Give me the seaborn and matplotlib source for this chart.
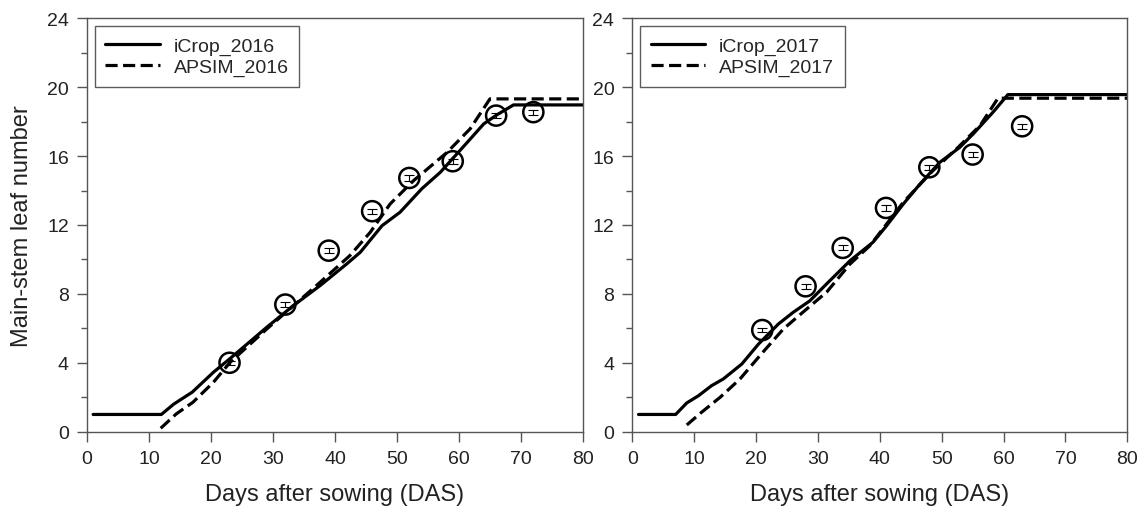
import numpy as np
import pandas as pd
import matplotlib
matplotlib.use("Agg")
import matplotlib.pyplot as plt
import seaborn as sns
from matplotlib.ticker import MultipleLocator

# ---- data ----
icrop16_day = [1, 12, 14, 17, 20.4, 23, 29, 33.3, 37.6, 41.9, 44.1, 47.6, 50.5, 54, 57, 61.6, 64, 66.1, 68.8, 80]
icrop16_val = [1, 1, 1.6, 2.3, 3.45, 4.22, 6.06, 7.32, 8.48, 9.74, 10.42, 11.96, 12.74, 14.1, 15.06, 16.9, 17.87, 18.39, 18.97, 18.97]
apsim16_day = [11.9, 14.4, 17.1, 20.4, 23.1, 29, 37.6, 42.4, 45.7, 48.9, 52.7, 58.1, 61.8, 65, 80]
apsim16_val = [0.2, 1.03, 1.71, 2.87, 4.03, 5.96, 8.67, 10.22, 11.58, 13.22, 14.58, 16.22, 17.58, 19.32, 19.32]
obs16_day = [23, 32, 39, 46, 52, 59, 66, 72]
obs16_val = [4.0, 7.38, 10.51, 12.8, 14.73, 15.7, 18.35, 18.55]
obs16_err = [0.1, 0.15, 0.15, 0.15, 0.15, 0.15, 0.15, 0.15]

icrop17_day = [1, 7, 8.8, 10.7, 12.8, 14.7, 17.7, 20.4, 23.6, 26, 28.7, 31.4, 35.2, 38.9, 41.1, 43.8, 46.5, 49.7, 52.9, 55.1, 58.3, 60.7, 80]
icrop17_val = [1, 1, 1.67, 2.09, 2.67, 3.06, 3.93, 5.09, 6.25, 6.93, 7.6, 8.58, 9.93, 11.0, 11.96, 13.22, 14.38, 15.64, 16.5, 17.29, 18.55, 19.57, 19.57]
apsim17_day = [8.8, 11.2, 14.2, 17.4, 20.6, 24.4, 28.2, 31.4, 35.2, 38.4, 43.8, 48.6, 52.4, 56.2, 59.1, 80]
apsim17_val = [0.39, 1.13, 2.0, 3.06, 4.41, 5.96, 7.13, 8.1, 9.74, 10.8, 13.32, 15.16, 16.42, 17.77, 19.36, 19.36]
obs17_day = [21, 28, 34, 41, 48, 55, 63]
obs17_val = [5.9, 8.44, 10.67, 12.99, 15.35, 16.09, 17.73]
obs17_err = [0.1, 0.15, 0.15, 0.15, 0.15, 0.15, 0.15]

x_ticks = [0, 10, 20, 30, 40, 50, 60, 70, 80]
y_ticks = [0, 4, 8, 12, 16, 20, 24]

# ---- style ----
sns.set_style("ticks")
plt.rcParams['font.family'] = ['Liberation Sans', 'DejaVu Sans']
spine_col = "#555555"

fig = plt.figure(figsize=(11.41, 5.10), dpi=100)
ax1 = fig.add_axes([0.0762, 0.1516, 0.4347, 0.8106])
ax2 = fig.add_axes([0.5542, 0.1516, 0.4338, 0.8106])

panels = [
    (ax1, "2016", icrop16_day, icrop16_val, apsim16_day, apsim16_val, obs16_day, obs16_val, obs16_err),
    (ax2, "2017", icrop17_day, icrop17_val, apsim17_day, apsim17_val, obs17_day, obs17_val, obs17_err),
]

for ax, yr, idays, ivals, adays, avals, odays, ovals, oerr in panels:
    df = pd.concat([
        pd.DataFrame({"day": idays, "val": ivals, "model": f"iCrop_{yr}"}),
        pd.DataFrame({"day": adays, "val": avals, "model": f"APSIM_{yr}"}),
    ])
    sns.lineplot(data=df, x="day", y="val", style="model", estimator=None, sort=False,
                 color="black", linewidth=2.3,
                 dashes={f"iCrop_{yr}": "", f"APSIM_{yr}": (3.8, 1.7)}, ax=ax)
    ax.errorbar(odays, ovals, yerr=oerr, fmt="none", ecolor="black", elinewidth=0.8,
                capsize=3.5, capthick=0.8, zorder=4)
    sns.scatterplot(x=odays, y=ovals, ax=ax, marker="o", s=210, facecolor="none",
                    edgecolor="black", linewidth=1.8, zorder=5, legend=False)
    ax.set_xlim(0, 80)
    ax.set_ylim(0, 24)
    ax.set_xticks(x_ticks)
    ax.set_yticks(y_ticks)
    ax.yaxis.set_minor_locator(MultipleLocator(2))
    ax.tick_params(axis="both", which="major", direction="out", length=7, width=1,
                   color=spine_col, labelsize=14, pad=6, labelcolor="#222222")
    ax.tick_params(axis="y", which="minor", direction="out", length=4, width=1, color=spine_col)
    for s in ax.spines.values():
        s.set_color(spine_col)
        s.set_linewidth(1.0)
    ax.set_xlabel("Days after sowing (DAS)", fontsize=17, labelpad=12, color="#222222")
    ax.set_ylabel("")
    leg = ax.legend(loc="upper left", bbox_to_anchor=(0.0, 1.0), borderaxespad=0.4,
                    fontsize=14, frameon=True, fancybox=False, edgecolor="#333333",
                    handlelength=2.8, handletextpad=0.7, borderpad=0.55, labelspacing=0.2)
    leg.get_frame().set_linewidth(1.0)
    for h in leg.get_lines():
        h.set_linewidth(2.3)

ax1.set_ylabel("Main-stem leaf number", fontsize=17, labelpad=10, color="#222222")

fig.savefig("out.png", dpi=100)
